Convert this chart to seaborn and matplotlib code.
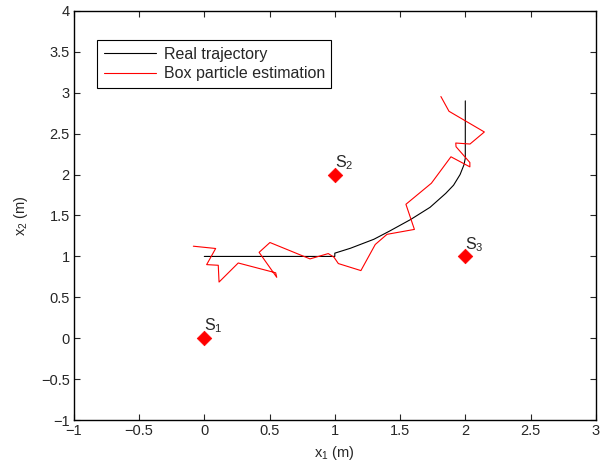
import numpy as np
import pandas as pd
import matplotlib
matplotlib.use("Agg")
import matplotlib.pyplot as plt
import seaborn as sns

# Trayectoria real (x1, x2)
real_x1 = [0.0, 1.0, 1.0, 1.12, 1.30, 1.42, 1.58, 1.73, 1.85, 1.91, 1.96, 1.99, 2.0, 2.0]
real_x2 = [1.0, 1.0, 1.04, 1.10, 1.21, 1.31, 1.45, 1.60, 1.77, 1.87, 2.00, 2.12, 2.20, 2.90]

# Estimacion con box particles
est_x1 = [-0.084, 0.087, 0.018, 0.107, 0.113, 0.26, 0.547, 0.555, 0.42, 0.503, 0.81,
          0.95, 0.994, 1.027, 1.20, 1.31, 1.40, 1.61, 1.545, 1.74, 1.89, 2.035, 2.035,
          1.929, 1.927, 2.036, 2.146, 1.875, 1.813]
est_x2 = [1.125, 1.097, 0.90, 0.892, 0.687, 0.92, 0.80, 0.745, 1.05, 1.17, 0.97,
          1.035, 0.99, 0.913, 0.827, 1.146, 1.27, 1.33, 1.637, 1.894, 2.217, 2.094, 2.147,
          2.34, 2.385, 2.373, 2.52, 2.773, 2.953]

# Sensores
sens_x1 = [0, 1, 2]
sens_x2 = [0, 2, 1]
sens_lab = ["S$_1$", "S$_2$", "S$_3$"]

sns.set_style("ticks")
plt.rcParams["font.family"] = ["Liberation Sans", "DejaVu Sans"]
plt.rcParams["mathtext.fontset"] = "custom"
plt.rcParams["mathtext.rm"] = "Liberation Sans"
plt.rcParams["mathtext.it"] = "Liberation Sans"
plt.rcParams["xtick.direction"] = "in"
plt.rcParams["ytick.direction"] = "in"

fig = plt.figure(figsize=(6, 4.7), dpi=100)
ax = fig.add_axes([0.123, 0.106, 0.870, 0.871])

df_real = pd.DataFrame({"x1": real_x1, "x2": real_x2})
df_est = pd.DataFrame({"x1": est_x1, "x2": est_x2})
df_s = pd.DataFrame({"x1": sens_x1, "x2": sens_x2})

sns.lineplot(data=df_real, x="x1", y="x2", sort=False, estimator=None, color="black",
             lw=0.8, label="Real trajectory", ax=ax)
sns.lineplot(data=df_est, x="x1", y="x2", sort=False, estimator=None, color="red",
             lw=0.8, label="Box particle estimation", ax=ax)
sns.scatterplot(data=df_s, x="x1", y="x2", marker="D", color="red", s=55,
                edgecolor="red", linewidth=0.5, ax=ax, legend=False, zorder=5)

for x, y, t in zip(sens_x1, sens_x2, sens_lab):
    ax.text(x, y + 0.15, t, fontsize=11.5, ha="left", va="center")

ax.set_xlim(-1, 3)
ax.set_ylim(-1, 4)
ax.set_xticks(np.arange(-1, 3.01, 0.5))
ax.set_yticks(np.arange(-1, 4.01, 0.5))
ax.set_xticklabels(["\u22121", "\u22120.5", "0", "0.5", "1", "1.5", "2", "2.5", "3"])
ax.set_yticklabels(["\u22121", "\u22120.5", "0", "0.5", "1", "1.5", "2", "2.5", "3", "3.5", "4"])
ax.tick_params(labelsize=10.5, length=4, width=0.8, top=True, right=True, pad=3)
for sp in ax.spines.values():
    sp.set_linewidth(1.0)
    sp.set_color("black")
    sp.set_visible(True)

ax.set_xlabel("x$_1$ (m)", fontsize=10.5, labelpad=4)
ax.set_ylabel("x$_2$ (m)", fontsize=10.5, labelpad=8)

leg = ax.legend(loc="upper left", bbox_to_anchor=(0.045, 0.928), fontsize=11.5,
                frameon=True, fancybox=False, framealpha=1, edgecolor="black",
                handlelength=3.3, handletextpad=0.45, borderpad=0.4, labelspacing=0.3,
                borderaxespad=0)
leg.get_frame().set_linewidth(0.8)

fig.savefig("out.png", dpi=100)
